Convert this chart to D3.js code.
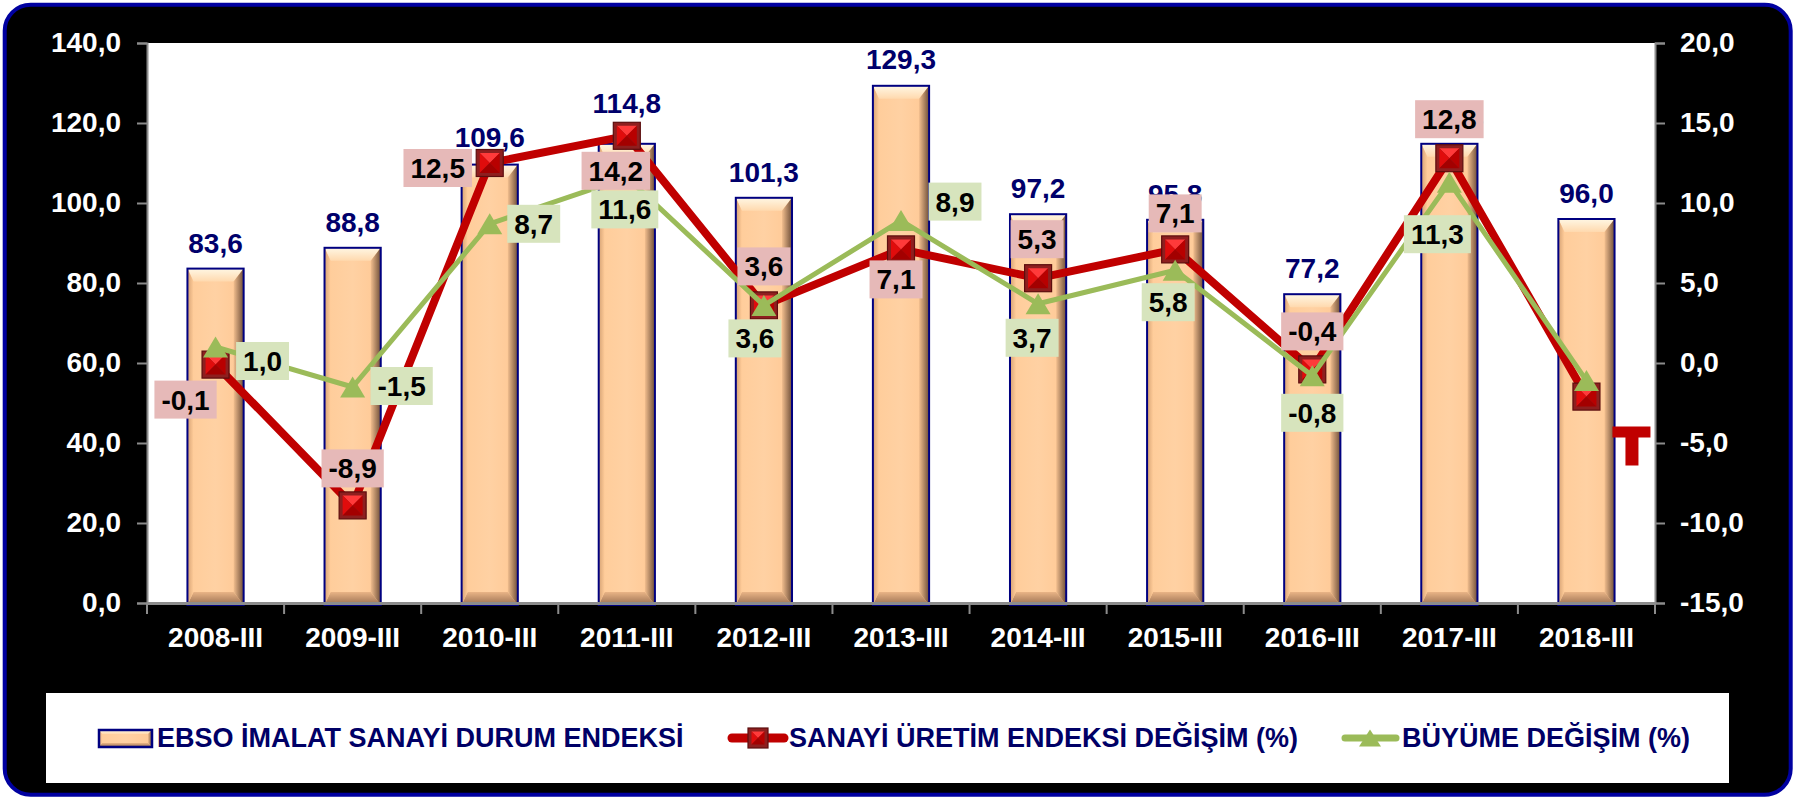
<!DOCTYPE html>
<html><head><meta charset="utf-8">
<script src="https://cdn.jsdelivr.net/npm/d3@7"></script>
<style>
html,body{margin:0;padding:0;background:#fff;}
svg{display:block;}
text{font-family:"Liberation Sans",Arial,sans-serif;font-weight:bold;}
</style>
</head><body>
<svg id="chart" width="1802" height="799"></svg>
<script>
// ---------------- DATA ----------------
const categories = ["2008-III","2009-III","2010-III","2011-III","2012-III","2013-III","2014-III","2015-III","2016-III","2017-III","2018-III"];
const ebsoIndex   = [83.6, 88.8, 109.6, 114.8, 101.3, 129.3, 97.2, 95.8, 77.2, 114.8, 96.0];
const sanayiChange = [-0.1, -8.9, 12.5, 14.2, 3.6, 7.1, 5.3, 7.1, -0.4, 12.8, -2.1];
const buyumeChange = [1.0, -1.5, 8.7, 11.6, 3.6, 8.9, 3.7, 5.8, -0.8, 11.3, -1.1];
const leftTicks  = [0, 20, 40, 60, 80, 100, 120, 140];
const rightTicks = [-15, -10, -5, 0, 5, 10, 15, 20];
const seriesNames = ["EBSO İMALAT SANAYİ DURUM ENDEKSİ", "SANAYİ ÜRETİM ENDEKSİ DEĞİŞİM (%)", "BÜYÜME DEĞİŞİM (%)"];

// label placement (offset of label box centre from the point), null = no label
const sanayiLabelPos = [[-30,35],[0,-37],[-52,5],[-11,35],[0,-39],[-5,30],[-1,-39],[0,-36],[0,-38],[0,-39],null];
const buyumeLabelPos = [[47,14],[49,-1],[44,0],[-2,32],[-9,33],[54,-19],[-6,34],[-7,32],[0,37],[-12,52],null];
// extra lift of bar value labels above the bar top
const barLabelLift = [16, 16, 18, 31, 16, 17, 16, 16, 16, 16, 16];

// ---------------- SETUP ----------------
const W = 1802, H = 799;
const plot = {l:147, r:1655, t:43, b:603};
const svg = d3.select("#chart");
const defs = svg.append("defs");
const fmt = d3.formatLocale({decimal:",", thousands:".", grouping:[3], currency:["",""], minus:"-"}).format(".1f");
const FONT = "Liberation Sans, Arial, sans-serif";

function lg(id, x2, y2, stops){
  const g = defs.append("linearGradient").attr("id", id).attr("x1",0).attr("y1",0).attr("x2",x2).attr("y2",y2);
  stops.forEach(s => g.append("stop").attr("offset", s[0]).attr("stop-color", s[1]));
}
lg("bvTop", 0, 1, [[0,"#FFF7E4"],[1,"#FFD9AE"]]);
lg("bvBot", 0, 1, [[0,"#E9B486"],[1,"#9A7052"]]);
lg("bvRight", 1, 0, [[0,"#F2BE8E"],[1,"#6E4E38"]]);
lg("bvLeft", 1, 0, [[0,"#D6A274"],[1,"#FFCC99"]]);
lg("body", 1, 0, [[0,"#FFCC99"],[0.5,"#FFD1A3"],[1,"#FFC894"]]);

// frame
svg.append("rect").attr("width", W).attr("height", H).attr("fill", "#fff");
svg.append("rect").attr("x", 4.7).attr("y", 4.7).attr("width", 1786).attr("height", 790)
  .attr("rx", 26).attr("fill", "#000").attr("stroke", "#0000A0").attr("stroke-width", 4);

// plot area
svg.append("rect").attr("x", plot.l).attr("y", plot.t).attr("width", plot.r - plot.l).attr("height", plot.b - plot.t).attr("fill", "#fff");

const xb = d3.scaleBand().domain(categories).range([plot.l, plot.r]).padding(0);
const step = xb.step();
const barW = step * 0.41;
const xc = c => xb(c) + step / 2;
const yL = d3.scaleLinear().domain([0, 140]).range([plot.b, plot.t]);
const yR = d3.scaleLinear().domain([-15, 20]).range([plot.b, plot.t]);

// ---------------- BARS ----------------
function bevelBar(g, x, y, w, h, bt, bb, bl, br, sw){
  const x1 = x + w, y1 = y + h;
  g.append("rect").attr("x", x).attr("y", y).attr("width", w).attr("height", h).attr("fill", "url(#body)");
  g.append("path").attr("d", `M${x},${y}L${x1},${y}L${x1-br},${y+bt}L${x+bl},${y+bt}Z`).attr("fill", "url(#bvTop)");
  g.append("path").attr("d", `M${x},${y1}L${x1},${y1}L${x1-br},${y1-bb}L${x+bl},${y1-bb}Z`).attr("fill", "url(#bvBot)");
  g.append("path").attr("d", `M${x1},${y}L${x1},${y1}L${x1-br},${y1-bb}L${x1-br},${y+bt}Z`).attr("fill", "url(#bvRight)");
  g.append("path").attr("d", `M${x},${y}L${x},${y1}L${x+bl},${y1-bb}L${x+bl},${y+bt}Z`).attr("fill", "url(#bvLeft)");
  g.append("rect").attr("x", x).attr("y", y).attr("width", w).attr("height", h)
    .attr("fill", "none").attr("stroke", "#000080").attr("stroke-width", sw);
}
const barG = svg.append("g");
categories.forEach((c, i) => {
  const x = xc(c) - barW / 2, y = yL(ebsoIndex[i]);
  bevelBar(barG.append("g"), x, y, barW, yL(0) - y + 2, 13, 13, 6, 10, 2);
});

// ---------------- AXES ----------------
const axisColor = "#8C8C8C";
const gL = svg.append("g").attr("transform", `translate(${plot.l},0)`)
  .call(d3.axisLeft(yL).tickValues(leftTicks).tickSize(10).tickPadding(16).tickFormat(fmt));
const gR = svg.append("g").attr("transform", `translate(${plot.r},0)`)
  .call(d3.axisRight(yR).tickValues(rightTicks).tickSize(10).tickPadding(15).tickFormat(fmt));
[gL, gR].forEach(g => {
  g.select(".domain").attr("stroke", axisColor).attr("stroke-width", 2);
  g.selectAll(".tick line").attr("stroke", axisColor).attr("stroke-width", 2);
  g.selectAll(".tick text").attr("fill", "#fff").attr("font-size", 28).attr("font-family", FONT).attr("font-weight", "bold");
});
const gB = svg.append("g").attr("transform", `translate(0,${plot.b})`)
  .call(d3.axisBottom(xb).tickSize(0).tickPadding(24));
gB.select(".domain").attr("stroke", axisColor).attr("stroke-width", 3);
gB.selectAll(".tick text").attr("fill", "#fff").attr("font-size", 28).attr("font-family", FONT).attr("font-weight", "bold");
const bounds = categories.map(c => xb(c)).concat([plot.r]);
gB.selectAll("line.bt").data(bounds).enter().append("line").attr("class", "bt")
  .attr("x1", d => d).attr("x2", d => d).attr("y1", 1).attr("y2", 11)
  .attr("stroke", axisColor).attr("stroke-width", 2);

// ---------------- LINES ----------------
function redSquare(g, cx, cy, s){
  const h = s / 2, i = 3.5;
  g.append("rect").attr("x", cx - h).attr("y", cy - h).attr("width", s).attr("height", s)
    .attr("fill", "#8E1F1F").attr("stroke", "#5C0E0E").attr("stroke-width", 1.2);
  const a = cx - h + i, b = cx + h - i, t = cy - h + i, bo = cy + h - i;
  g.append("path").attr("d", `M${a},${t}L${b},${t}L${cx},${cy}Z`).attr("fill", "#FF3A3A");
  g.append("path").attr("d", `M${a},${t}L${a},${bo}L${cx},${cy}Z`).attr("fill", "#E00C0C");
  g.append("path").attr("d", `M${b},${t}L${b},${bo}L${cx},${cy}Z`).attr("fill", "#B80000");
  g.append("path").attr("d", `M${a},${bo}L${b},${bo}L${cx},${cy}Z`).attr("fill", "#A30000");
}
function greenTri(g, cx, cy, w, h){
  g.append("path").attr("d", `M${cx},${cy - h/2}L${cx + w/2},${cy + h/2}L${cx - w/2},${cy + h/2}Z`).attr("fill", "#9BBB59");
}

const seriesLine = d3.line().x((d, i) => xc(categories[i])).y(d => yR(d));
svg.append("path").datum(sanayiChange).attr("d", seriesLine).attr("fill", "none")
  .attr("stroke", "#C00000").attr("stroke-width", 8).attr("stroke-linejoin", "round");
const redG = svg.append("g");
sanayiChange.forEach((v, i) => redSquare(redG, xc(categories[i]), yR(v), 27));

svg.append("path").datum(buyumeChange).attr("d", seriesLine).attr("fill", "none")
  .attr("stroke", "#9BBB59").attr("stroke-width", 5).attr("stroke-linejoin", "round");
const grG = svg.append("g");
buyumeChange.forEach((v, i) => greenTri(grG, xc(categories[i]), yR(v), 25, 21));

// red "T" mark next to the last point (as in the original)
{
  const px = xc(categories[categories.length - 1]), py = yR(sanayiChange[sanayiChange.length - 1]);
  svg.append("path").attr("d",
    `M${px+26},${py+30}H${px+64}V${py+41}H${px+52}V${py+69}H${px+39}V${py+41}H${px+26}Z`).attr("fill", "#C00000");
}

// ---------------- LABELS ----------------
const barLab = svg.append("g");
categories.forEach((c, i) => {
  barLab.append("text").attr("x", xc(c)).attr("y", yL(ebsoIndex[i]) - barLabelLift[i])
    .attr("text-anchor", "middle").attr("font-size", 28).attr("fill", "#00006B").text(fmt(ebsoIndex[i]));
});

function boxLabels(values, pos, yScale, fill){
  const g = svg.append("g");
  values.forEach((v, i) => {
    if (!pos[i]) return;
    const cx = xc(categories[i]) + pos[i][0], cy = yScale(v) + pos[i][1];
    const lg = g.append("g");
    const r = lg.append("rect").attr("fill", fill);
    const t = lg.append("text").attr("x", cx).attr("y", cy + 10).attr("text-anchor", "middle")
      .attr("font-size", 28).attr("fill", "#000").text(fmt(v));
    const tw = t.node().getComputedTextLength() + 14;
    r.attr("x", cx - tw / 2).attr("y", cy - 19).attr("width", tw).attr("height", 38);
  });
}
boxLabels(sanayiChange, sanayiLabelPos, yR, "#E6B9B8");
boxLabels(buyumeChange, buyumeLabelPos, yR, "#D7E4BD");

// ---------------- LEGEND ----------------
const leg = svg.append("g");
leg.append("rect").attr("x", 46).attr("y", 693).attr("width", 1683).attr("height", 90).attr("fill", "#fff");
bevelBar(leg.append("g"), 99, 730, 53, 17, 4, 4, 3, 4, 2.5);
leg.append("text").attr("x", 157).attr("y", 747).attr("font-size", 27).attr("fill", "#000066").text(seriesNames[0]);

leg.append("line").attr("x1", 732).attr("x2", 784).attr("y1", 738).attr("y2", 738)
  .attr("stroke", "#C00000").attr("stroke-width", 9).attr("stroke-linecap", "round");
redSquare(leg, 758, 738, 20);
leg.append("text").attr("x", 789).attr("y", 747).attr("font-size", 27).attr("fill", "#000066").text(seriesNames[1]);

leg.append("line").attr("x1", 1345).attr("x2", 1396).attr("y1", 738).attr("y2", 738)
  .attr("stroke", "#9BBB59").attr("stroke-width", 7).attr("stroke-linecap", "round");
greenTri(leg, 1370, 738, 22, 17);
leg.append("text").attr("x", 1402).attr("y", 747).attr("font-size", 27).attr("fill", "#000066").text(seriesNames[2]);
</script>
</body></html>
